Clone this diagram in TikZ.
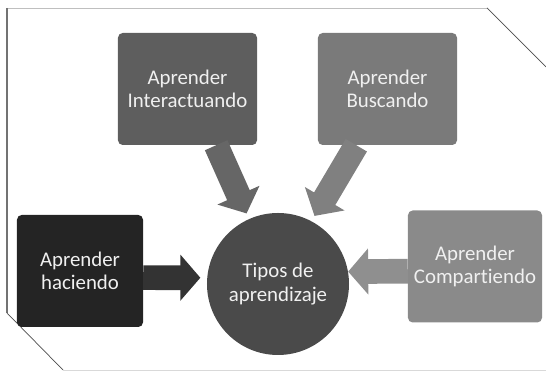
\documentclass[tikz,border=0pt]{standalone}
\usepackage{fontspec}
\setmainfont{Carlito}[Ligatures=NoCommon]
\usepackage{tikz}
\usetikzlibrary{arrows.meta,shapes,positioning}

\begin{document}
\begin{tikzpicture}[x=0.03cm, y=0.03cm,
    caja/.style={rounded corners=4pt, minimum height=3.36cm, align=center,
        text=black!6, font=\fontsize{17.8}{20}\selectfont, inner sep=0pt},
    flecha/.style={line width=0.74cm, -{Triangle[length=0.6cm, width=1.35cm]}}]
            \useasboundingbox (0,0) rectangle (546,372);
            % marco
            \draw[black!25, line width=0.6pt] (7,364) -- (487,364);
            \draw[black!55, line width=1.2pt] (7,364) -- (7,59);
            \draw[black!70, line width=0.6pt] (7,59) -- (63,2);
            \draw[black!70, line width=0.6pt] (487,364) -- (546,305);
            \draw[black!15, line width=0.6pt] (63,2) -- (546,2);

            \node[caja, minimum width=4.17cm, fill=black!63] (interactuando) at (187.5,283) {Aprender\\Interactuando};
            \node[caja, minimum width=4.17cm, fill=black!52] (buscando) at (387.5,283) {Aprender\\Buscando};
            \node[caja, minimum width=3.78cm, fill=black!86] (haciendo) at (80,101) {Aprender\\haciendo};
            \node[caja, minimum width=4.02cm, fill=black!46] (compartiendo) at (475,105.5) {Aprender\\Compartiendo};
            \node[circle, fill=black!71, minimum size=4.26cm, align=center, text=black!6,
                font=\fontsize{17.8}{20}\selectfont] (tipos) at (278,88) {Tipos de\\aprendizaje};

            \draw[flecha, black!60, shorten >=0.18cm] (interactuando.-63) -- (tipos.114);
            \draw[flecha, black!50, shorten >=0.18cm] (buscando.-119) -- (tipos.62);
            \draw[flecha, black!80, shorten >=0.2cm] (haciendo.-6) -- (tipos.175);
            \draw[flecha, black!44] (compartiendo.184) -- (tipos.10);
        \end{tikzpicture}
\end{document}
